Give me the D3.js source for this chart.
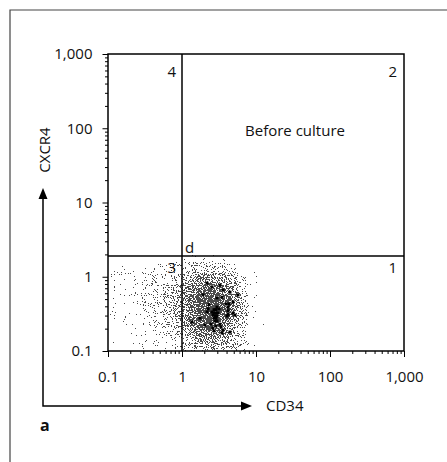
<!DOCTYPE html>
<html>
<head>
<meta charset="utf-8">
<script src="https://cdn.jsdelivr.net/npm/d3@7"></script>
<style>
  body { margin: 0; background: #fff; }
  svg text { font-family: "Open Sans", "Noto Sans", sans-serif; fill: #111; }
</style>
</head>
<body>
<svg id="chart" width="447" height="462"></svg>
<script>
// log axes, both CD34 (x) and CXCR4 (y)
const majorTicks = [0.1, 1, 10, 100, 1000];
const majorLabels = ["0.1", "1", "10", "100", "1,000"];

// quadrant gates
const gateCD34 = 1;
const gateCXCR4 = 1.9;

// event density, bins of 1/8 decade starting at 0.1 on both axes
// rows listed top (highest CXCR4) to bottom, columns left to right
const binStep = 0.125;
const densityRows = [
  [0,0,0,0,0,0,0,0,1,1,1,1,1,0,0,0,0,0],
  [0,0,0,0,0,0,0,0,2,2,2,2,1,1,0,0,0,0],
  [2,2,3,3,3,3,4,4,4,4,4,4,4,3,3,2,1,0],
  [3,3,3,3,3,4,4,4,5,5,6,5,5,5,3,2,2,0],
  [3,3,3,3,4,4,4,5,5,6,6,6,6,5,4,3,2,0],
  [3,3,3,4,4,4,5,5,6,7,7,7,6,6,4,3,2,0],
  [3,3,3,4,4,4,5,5,6,7,8,8,7,6,5,3,2,0],
  [3,3,3,3,4,4,5,5,6,7,8,8,7,6,5,3,2,0],
  [3,3,3,3,4,4,4,5,6,7,8,8,7,6,5,3,2,0],
  [2,3,3,3,3,4,4,5,5,7,7,7,6,6,4,3,2,0],
  [2,2,3,3,3,3,4,4,5,6,6,6,6,5,4,3,2,0],
  [2,2,2,3,3,3,3,4,4,5,5,5,5,5,4,3,2,0]
];

// densest events in the core (CD34, CXCR4)
const coreEvents = [
  [2.71,0.36],[2.88,0.36],[2.88,0.325],[2.71,0.325],[3.06,0.325],[2.80,0.296],
  [2.97,0.296],[2.71,0.278],[2.88,0.278],[2.80,0.254],[2.97,0.254],[2.62,0.305],
  [3.16,0.37],[2.97,0.39],[2.54,0.335],
  [3.93,0.43],[4.32,0.43],[4.19,0.39],[4.19,0.35],[4.19,0.31],[4.06,0.296],
  [2.32,0.42],[2.25,0.37],[2.18,0.335],
  [2.47,0.231],[2.62,0.204],[2.71,0.186],[2.88,0.217],[3.37,0.21],[3.58,0.192],
  [3.47,0.175],[3.26,0.23],
  [2.54,0.73],[3.26,0.77],[3.58,0.66],[4.45,0.62],[1.92,0.57],[4.89,0.46],
  [1.75,0.278],[2.05,0.224],[5.2,0.305],[4.45,0.18],[2.97,0.52],[3.47,0.53],
  [2.18,0.82],[5.71,0.57],[1.36,0.246],[4.89,0.325]
];

const svg = d3.select('#chart');

const x = d3.scaleLog().domain([0.1, 1000]).range([108, 404]);
const y = d3.scaleLog().domain([0.1, 1000]).range([351, 54]);

const minorTicks = [];
majorTicks.slice(0, -1).forEach(d => {
  for (let k = 2; k < 10; k++) minorTicks.push(d * k);
});

// outer panel frame
svg.append('path')
  .attr('d', 'M10,462V10H447')
  .attr('fill', 'none')
  .attr('stroke', '#444')
  .attr('stroke-width', 1.2);

const defs = svg.append('defs');
defs.append('clipPath').attr('id', 'plotClip')
  .append('rect')
  .attr('x', x.range()[0]).attr('y', y.range()[1])
  .attr('width', x.range()[1] - x.range()[0])
  .attr('height', y.range()[0] - y.range()[1]);

// turns the smooth density into a speckled dot-plot look
const f = defs.append('filter').attr('id', 'stipple')
  .attr('x', '-10%').attr('y', '-10%').attr('width', '120%').attr('height', '120%')
  .attr('color-interpolation-filters', 'sRGB');
f.append('feGaussianBlur').attr('in', 'SourceGraphic').attr('stdDeviation', 4).attr('result', 'soft');
f.append('feTurbulence').attr('type', 'fractalNoise').attr('baseFrequency', 0.9)
  .attr('numOctaves', 1).attr('seed', 7).attr('result', 'noise');
f.append('feColorMatrix').attr('in', 'noise').attr('type', 'matrix')
  .attr('values', '0 0 0 0 0  0 0 0 0 0  0 0 0 0 0  1 0 0 0 0').attr('result', 'grain');
f.append('feComposite').attr('in', 'soft').attr('in2', 'grain').attr('operator', 'arithmetic')
  .attr('k1', 0).attr('k2', 0.94).attr('k3', 1).attr('k4', -0.435).attr('result', 'sum');
f.append('feComponentTransfer').attr('in', 'sum').attr('result', 'dots')
  .append('feFuncA').attr('type', 'discrete').attr('tableValues', '0 1');
f.append('feComponentTransfer').attr('in', 'soft').attr('result', 'mask')
  .append('feFuncA').attr('type', 'linear').attr('slope', 25).attr('intercept', -1);
f.append('feComposite').attr('in', 'dots').attr('in2', 'mask').attr('operator', 'in').attr('result', 'kept');
f.append('feFlood').attr('flood-color', '#4a4a4a').attr('result', 'ink');
f.append('feComposite').attr('in', 'ink').attr('in2', 'kept').attr('operator', 'in');

const cells = [];
densityRows.forEach((row, r) => {
  const j = densityRows.length - 1 - r;
  row.forEach((d, i) => {
    if (d > 0) cells.push({i, j, d});
  });
});

const cloud = svg.append('g').attr('clip-path', 'url(#plotClip)');
cloud.append('g').attr('filter', 'url(#stipple)')
  .selectAll('rect').data(cells).join('rect')
  .attr('x', c => x(Math.pow(10, -1 + c.i * binStep)) - (c.i === 0 ? 10 : 0))
  .attr('y', c => y(Math.pow(10, -1 + (c.j + 1) * binStep)))
  .attr('width', c => x(Math.pow(10, -1 + (c.i + 1) * binStep)) - x(Math.pow(10, -1 + c.i * binStep)) + (c.i === 0 ? 10 : 0) + 0.5)
  .attr('height', c => y(Math.pow(10, -1 + c.j * binStep)) - y(Math.pow(10, -1 + (c.j + 1) * binStep)) + (c.j === 0 ? 10 : 0) + 0.5)
  .attr('fill', '#000')
  .attr('fill-opacity', c => 0.05 + c.d * 0.065);

cloud.selectAll('rect.core').data(coreEvents).join('rect')
  .attr('class', 'core')
  .attr('x', d => x(d[0]) - 1.5)
  .attr('y', d => y(d[1]) - 1.5)
  .attr('width', 3)
  .attr('height', 3)
  .attr('fill', '#000');

// axes
function styleAxis(g) {
  g.select('.domain').remove();
  g.selectAll('line').attr('stroke', '#000').attr('stroke-width', 1);
  g.selectAll('text').attr('font-size', 15).attr('font-family', null).attr('fill', '#111');
}

svg.append('g').attr('transform', `translate(0,${y.range()[0]})`)
  .call(d3.axisBottom(x).tickValues(minorTicks).tickSize(3).tickFormat(''))
  .call(styleAxis);
svg.append('g').attr('transform', `translate(0,${y.range()[0]})`)
  .call(d3.axisBottom(x).tickValues(majorTicks).tickSize(6).tickPadding(14)
    .tickFormat((d, i) => majorLabels[i]))
  .call(styleAxis);

svg.append('g').attr('transform', `translate(${x.range()[0]},0)`)
  .call(d3.axisLeft(y).tickValues(minorTicks).tickSize(3).tickFormat(''))
  .call(styleAxis);
svg.append('g').attr('transform', `translate(${x.range()[0]},0)`)
  .call(d3.axisLeft(y).tickValues(majorTicks).tickSize(5.5).tickPadding(10)
    .tickFormat((d, i) => majorLabels[i]))
  .call(styleAxis);

// plot box and gates
svg.append('rect')
  .attr('x', x.range()[0]).attr('y', y.range()[1])
  .attr('width', x.range()[1] - x.range()[0])
  .attr('height', y.range()[0] - y.range()[1])
  .attr('fill', 'none').attr('stroke', '#000').attr('stroke-width', 1.5);

svg.append('line')
  .attr('x1', x(gateCD34)).attr('x2', x(gateCD34))
  .attr('y1', y.range()[1]).attr('y2', y.range()[0])
  .attr('stroke', '#000').attr('stroke-width', 1.5);
svg.append('line')
  .attr('x1', x.range()[0]).attr('x2', x.range()[1])
  .attr('y1', y(gateCXCR4)).attr('y2', y(gateCXCR4))
  .attr('stroke', '#000').attr('stroke-width', 1.5);

// quadrant numbers
const qx = [x(gateCD34) - 6, x.range()[1] - 7];
const qyTop = y.range()[1] + 23;
const qyBottom = y(gateCXCR4) + 17;
const quads = [
  {t: '4', x: qx[0], y: qyTop},
  {t: '2', x: qx[1], y: qyTop},
  {t: '3', x: qx[0], y: qyBottom},
  {t: '1', x: qx[1], y: qyBottom}
];
svg.selectAll('text.quad').data(quads).join('text')
  .attr('class', 'quad')
  .attr('x', d => d.x).attr('y', d => d.y)
  .attr('text-anchor', 'end')
  .attr('font-size', 15)
  .text(d => d.t);

svg.append('text')
  .attr('x', x(gateCD34) + 3).attr('y', y(gateCXCR4) - 3)
  .attr('font-size', 15)
  .text('d');

svg.append('text')
  .attr('x', 295).attr('y', 136)
  .attr('text-anchor', 'middle')
  .attr('font-size', 15)
  .text('Before culture');

// axis arrows
svg.append('path')
  .attr('d', 'M43,197V406H243')
  .attr('fill', 'none').attr('stroke', '#000').attr('stroke-width', 1.5);
svg.append('path').attr('d', 'M43,188L38.5,199L47.5,199Z').attr('fill', '#000');
svg.append('path').attr('d', 'M252,406L241,401.5L241,410.5Z').attr('fill', '#000');

svg.append('text')
  .attr('x', 266).attr('y', 411)
  .attr('font-size', 15)
  .text('CD34');

svg.append('text')
  .attr('transform', 'translate(50,150) rotate(-90)')
  .attr('text-anchor', 'middle')
  .attr('font-size', 15)
  .text('CXCR4');

svg.append('text')
  .attr('x', 40).attr('y', 431)
  .attr('font-size', 16)
  .attr('font-weight', 'bold')
  .text('a');
</script>
</body>
</html>
